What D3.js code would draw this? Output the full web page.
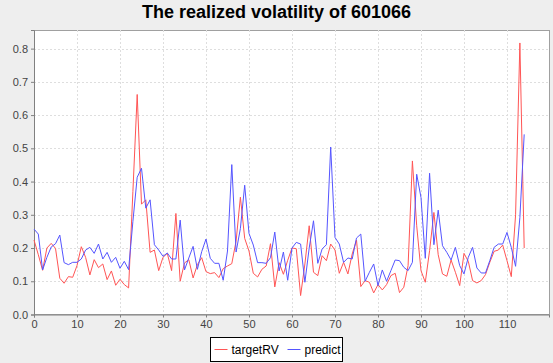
<!DOCTYPE html>
<html>
<head>
<meta charset="utf-8">
<script src="https://cdn.jsdelivr.net/npm/d3@7"></script>
<style>
  body { margin: 0; background: #eeeeee; }
  svg { display: block; font-family: "Liberation Sans", Arial, sans-serif; }
</style>
</head>
<body>
<div id="chart"></div>
<script>
// values, index 0..114
const targetRV = [0.224, 0.18, 0.133, 0.200, 0.214, 0.199, 0.109, 0.094, 0.114, 0.112,
  0.147, 0.204, 0.172, 0.119, 0.165, 0.141, 0.152, 0.105, 0.131, 0.088,
  0.106, 0.09, 0.08, 0.37, 0.662, 0.332, 0.345, 0.187, 0.194, 0.132,
  0.172, 0.184, 0.132, 0.304, 0.1, 0.155, 0.165, 0.11, 0.15, 0.171,
  0.129, 0.123, 0.126, 0.111, 0.138, 0.146, 0.153, 0.221, 0.353, 0.229,
  0.191, 0.124, 0.113, 0.136, 0.146, 0.213, 0.083, 0.156, 0.121, 0.163,
  0.2, 0.198, 0.057, 0.152, 0.267, 0.127, 0.117, 0.177, 0.162, 0.212,
  0.194, 0.124, 0.157, 0.122, 0.182, 0.224, 0.084, 0.102, 0.097, 0.065,
  0.09, 0.074, 0.09, 0.117, 0.124, 0.066, 0.082, 0.147, 0.462, 0.267,
  0.132, 0.097, 0.192, 0.307, 0.18, 0.122, 0.115, 0.164, 0.127, 0.087,
  0.184, 0.16, 0.102, 0.095, 0.102, 0.12, 0.157, 0.19, 0.194, 0.209,
  0.162, 0.114, 0.3, 0.817, 0.2];

const predict = [0.257, 0.242, 0.134, 0.172, 0.203, 0.213, 0.239, 0.156, 0.150, 0.157,
  0.157, 0.167, 0.194, 0.202, 0.184, 0.212, 0.167, 0.187, 0.157, 0.172,
  0.139, 0.16, 0.135, 0.28, 0.413, 0.44, 0.32, 0.345, 0.21, 0.194,
  0.175, 0.185, 0.167, 0.167, 0.284, 0.134, 0.17, 0.205, 0.136, 0.189,
  0.227, 0.169, 0.154, 0.154, 0.103, 0.191, 0.451, 0.188, 0.259, 0.389,
  0.244, 0.209, 0.156, 0.156, 0.154, 0.171, 0.248, 0.131, 0.188, 0.103,
  0.2, 0.217, 0.212, 0.097, 0.2, 0.282, 0.154, 0.197, 0.21, 0.504,
  0.232, 0.212, 0.157, 0.17, 0.167, 0.23, 0.242, 0.1, 0.127, 0.152,
  0.087, 0.134, 0.1, 0.132, 0.164, 0.162, 0.142, 0.132, 0.157, 0.422,
  0.352, 0.169, 0.425, 0.21, 0.314, 0.207, 0.187, 0.164, 0.202, 0.147,
  0.122, 0.172, 0.202, 0.14, 0.125, 0.125, 0.162, 0.202, 0.212, 0.212,
  0.247, 0.202, 0.145, 0.292, 0.542];

const xTicks = [0, 10, 20, 30, 40, 50, 60, 70, 80, 90, 100, 110];
const yTicks = [0, 0.1, 0.2, 0.3, 0.4, 0.5, 0.6, 0.7, 0.8];
const seriesNames = ["targetRV", "predict"];
const seriesColors = ["#ff5555", "#5555ff"];
const title = "The realized volatility of 601066";

const W = 553, H = 363;
const margin = { top: 30, right: 4, bottom: 48.5, left: 34 };
const width = W - margin.left - margin.right;
const height = H - margin.top - margin.bottom;

const svg = d3.select("#chart").append("svg")
  .attr("width", W)
  .attr("height", H);

svg.append("rect").attr("width", W).attr("height", H).attr("fill", "#eeeeee");

svg.append("text")
  .attr("x", W / 2)
  .attr("y", 18)
  .attr("text-anchor", "middle")
  .attr("font-size", 18)
  .attr("font-weight", "bold")
  .attr("fill", "#000")
  .text(title);

const g = svg.append("g")
  .attr("transform", "translate(" + margin.left + "," + margin.top + ")");

let x = d3.scaleLinear().domain([0, 119.77]).range([0, width]);
let y = d3.scaleLinear().domain([0, 0.856]).range([height, 0]);

g.append("rect")
  .attr("width", width).attr("height", height)
  .attr("fill", "#fff")
  .attr("stroke", "#a0a0a0")
  .attr("shape-rendering", "crispEdges");

// gridlines
g.selectAll(".vgrid").data(xTicks.slice(1)).enter().append("line")
  .attr("x1", d => Math.round(x(d)) + 0.5).attr("x2", d => Math.round(x(d)) + 0.5)
  .attr("y1", 0).attr("y2", height)
  .attr("stroke", "#dedede").attr("stroke-dasharray", "2,2");

g.selectAll(".hgrid").data(yTicks.slice(1)).enter().append("line")
  .attr("y1", d => Math.round(y(d)) + 0.5).attr("y2", d => Math.round(y(d)) + 0.5)
  .attr("x1", 0).attr("x2", width)
  .attr("stroke", "#dedede").attr("stroke-dasharray", "2,2");

// axes
const xAxis = g.append("g")
  .attr("transform", "translate(0," + height + ")")
  .call(d3.axisBottom(x).tickValues(xTicks).tickSize(3).tickPadding(3).tickFormat(d3.format("d")));

const yAxis = g.append("g")
  .call(d3.axisLeft(y).tickValues(yTicks).tickSize(3).tickPadding(3).tickFormat(d3.format(".1f")));

[xAxis, yAxis].forEach(a => {
  a.select(".domain").attr("stroke", "#808080");
  a.selectAll(".tick line").attr("stroke", "#808080");
  a.selectAll("text").attr("fill", "#444").attr("font-size", 11)
    .attr("font-family", "'Liberation Sans', Arial, sans-serif");
});

// lines
const line = d3.line()
  .x((d, i) => x(i))
  .y(d => y(d));

[targetRV, predict].forEach((data, k) => {
  g.append("path")
    .datum(data)
    .attr("fill", "none")
    .attr("stroke", seriesColors[k])
    .attr("stroke-width", 1)
    .attr("d", line);
});

// legend
const legend = svg.append("g").attr("transform", "translate(210.5,337.5)");
legend.append("rect")
  .attr("width", 132).attr("height", 24)
  .attr("fill", "#fff").attr("stroke", "#000");

const legendX = [4, 77];
seriesNames.forEach((name, k) => {
  legend.append("line")
    .attr("x1", legendX[k]).attr("x2", legendX[k] + 13)
    .attr("y1", 12).attr("y2", 12)
    .attr("stroke", seriesColors[k]);
  legend.append("text")
    .attr("x", legendX[k] + 17).attr("y", 16.5)
    .attr("font-size", 12)
    .attr("fill", "#000")
    .text(name);
});
</script>
</body>
</html>
